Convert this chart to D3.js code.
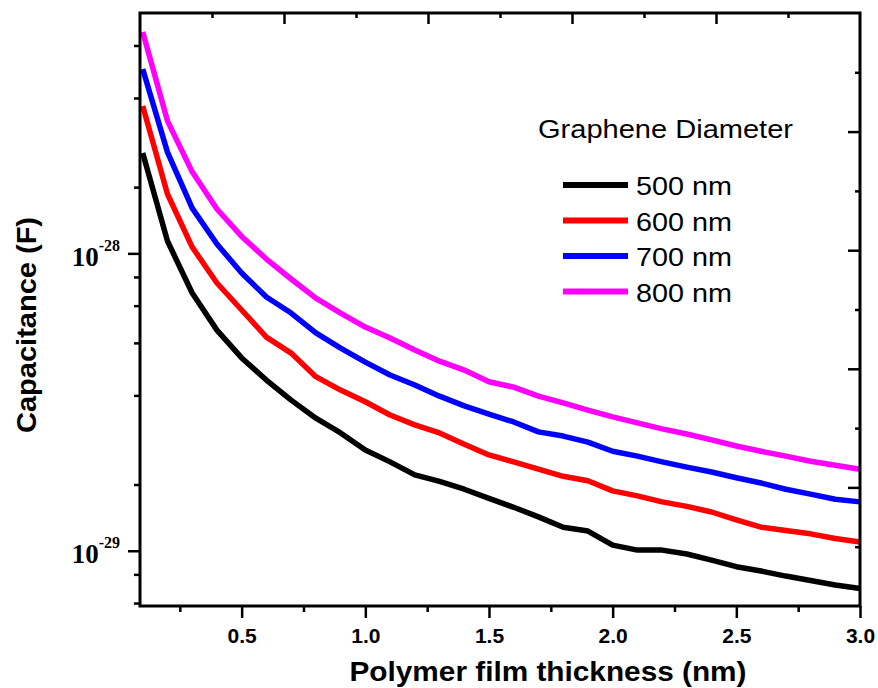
<!DOCTYPE html>
<html>
<head>
<meta charset="utf-8">
<script src="https://cdn.jsdelivr.net/npm/d3@7"></script>
<style>
body { margin: 0; background: #fff; }
svg { display: block; }
</style>
</head>
<body>
<svg width="878" height="688"></svg>
<script>
// film thickness (nm)
var thickness = [0.1, 0.2, 0.3, 0.4, 0.5, 0.6, 0.7, 0.8, 0.9, 1.0,
    1.1, 1.2, 1.3, 1.4, 1.5, 1.6, 1.7, 1.8, 1.9, 2.0,
    2.1, 2.2, 2.3, 2.4, 2.5, 2.6, 2.7, 2.8, 2.9, 3.0];

// capacitance (F) per graphene diameter
var cap500 = [21.75e-29, 11.0e-29, 7.36e-29, 5.52e-29, 4.45e-29, 3.75e-29, 3.21e-29, 2.79e-29, 2.49e-29, 2.18e-29,
    1.99e-29, 1.80e-29, 1.71e-29, 1.61e-29, 1.50e-29, 1.40e-29, 1.30e-29, 1.20e-29, 1.165e-29, 1.045e-29,
    1.005e-29, 1.005e-29, 0.975e-29, 0.930e-29, 0.884e-29, 0.855e-29, 0.822e-29, 0.794e-29, 0.767e-29, 0.747e-29];
var cap600 = [31.3e-29, 15.83e-29, 10.5e-29, 7.95e-29, 6.45e-29, 5.23e-29, 4.62e-29, 3.85e-29, 3.47e-29, 3.17e-29,
    2.86e-29, 2.65e-29, 2.49e-29, 2.28e-29, 2.10e-29, 1.99e-29, 1.88e-29, 1.78e-29, 1.72e-29, 1.59e-29,
    1.53e-29, 1.46e-29, 1.41e-29, 1.35e-29, 1.27e-29, 1.20e-29, 1.17e-29, 1.14e-29, 1.10e-29, 1.07e-29];
var cap700 = [41.7e-29, 21.9e-29, 14.2e-29, 10.75e-29, 8.59e-29, 7.13e-29, 6.30e-29, 5.40e-29, 4.80e-29, 4.31e-29,
    3.90e-29, 3.61e-29, 3.31e-29, 3.07e-29, 2.88e-29, 2.71e-29, 2.51e-29, 2.43e-29, 2.32e-29, 2.16e-29,
    2.08e-29, 1.99e-29, 1.91e-29, 1.84e-29, 1.76e-29, 1.69e-29, 1.61e-29, 1.55e-29, 1.49e-29, 1.46e-29];
var cap800 = [55.5e-29, 27.9e-29, 18.8e-29, 14.1e-29, 11.4e-29, 9.57e-29, 8.20e-29, 7.07e-29, 6.30e-29, 5.65e-29,
    5.19e-29, 4.73e-29, 4.34e-29, 4.05e-29, 3.70e-29, 3.55e-29, 3.31e-29, 3.14e-29, 2.97e-29, 2.82e-29,
    2.69e-29, 2.57e-29, 2.47e-29, 2.36e-29, 2.25e-29, 2.16e-29, 2.08e-29, 2.00e-29, 1.94e-29, 1.88e-29];

var seriesNames = ["500 nm", "600 nm", "700 nm", "800 nm"];
var seriesColors = ["#000000", "#ff0000", "#0000ff", "#ff00ff"];
var seriesValues = [cap500, cap600, cap700, cap800];

var xTicks = [0.5, 1.0, 1.5, 2.0, 2.5, 3.0];
var xMinorTicks = [0.25, 0.75, 1.25, 1.75, 2.25, 2.75];
var yTicks = [1e-29, 1e-28];
var yTickExp = ["-29", "-28"];
var yMinorTicks = [6.67e-30, 8.33e-30, 1.67e-29, 3.33e-29, 5e-29, 6.67e-29, 8.33e-29, 1.67e-28, 3.33e-28, 5e-28];
var frameMajor = [2, 4, 6, 8];
var frameMinor = [1, 3, 5, 7, 9];

var plotLeft = 140, plotRight = 860, plotTop = 13, plotBottom = 606;

var svg = d3.select("svg");

var x = d3.scaleLinear().domain([0.089, 3.0]).range([plotLeft, plotRight]);
var y = d3.scaleLog().domain([6.52e-30, 6.43e-28]).range([plotBottom, plotTop]);
var topScale = d3.scaleLinear().domain([0, 10]).range([plotLeft, plotRight]);
var rightScale = d3.scaleLinear().domain([0, 10]).range([plotBottom, plotTop]);

function styleAxis(g) {
    g.select(".domain").remove();
    g.selectAll(".tick line").attr("stroke", "#000").attr("stroke-width", 2.5);
}

// bottom axis
svg.append("g")
    .attr("transform", "translate(0," + plotBottom + ")")
    .call(d3.axisBottom(x).tickValues(xMinorTicks).tickSize(6).tickFormat(""))
    .call(styleAxis);
var xAxis = svg.append("g")
    .attr("transform", "translate(0," + plotBottom + ")")
    .call(d3.axisBottom(x).tickValues(xTicks).tickSize(12).tickFormat(d3.format(".1f")))
    .call(styleAxis);
xAxis.selectAll(".tick text")
    .attr("y", 37.3)
    .attr("dy", null)
    .attr("fill", "#000")
    .style("font-family", "'Liberation Sans', Arial, sans-serif")
    .style("font-weight", "bold")
    .style("font-size", "21px");

// left axis
svg.append("g")
    .attr("transform", "translate(" + plotLeft + ",0)")
    .call(d3.axisLeft(y).tickValues(yMinorTicks).tickSize(6).tickFormat(""))
    .call(styleAxis);
var yAxis = svg.append("g")
    .attr("transform", "translate(" + plotLeft + ",0)")
    .call(d3.axisLeft(y).tickValues(yTicks).tickSize(12).tickPadding(8).tickFormat(""))
    .call(styleAxis);
yAxis.selectAll(".tick text").each(function(d, i) {
    var t = d3.select(this);
    t.attr("dy", null).attr("y", 11.7)
        .attr("fill", "#000")
        .style("font-family", "'Liberation Serif', 'Times New Roman', serif")
        .style("font-weight", "bold")
        .style("font-size", "27px");
    t.append("tspan").text("10");
    t.append("tspan").attr("dy", -15).style("font-size", "16px").text(yTickExp[i]);
});

// top axis (ticks inward)
svg.append("g")
    .attr("transform", "translate(0," + plotTop + ")")
    .call(d3.axisBottom(topScale).tickValues(frameMinor).tickSize(5).tickFormat(""))
    .call(styleAxis);
svg.append("g")
    .attr("transform", "translate(0," + plotTop + ")")
    .call(d3.axisBottom(topScale).tickValues(frameMajor).tickSize(11).tickFormat(""))
    .call(styleAxis);

// right axis (ticks inward)
svg.append("g")
    .attr("transform", "translate(" + plotRight + ",0)")
    .call(d3.axisLeft(rightScale).tickValues(frameMinor).tickSize(5).tickFormat(""))
    .call(styleAxis);
svg.append("g")
    .attr("transform", "translate(" + plotRight + ",0)")
    .call(d3.axisLeft(rightScale).tickValues(frameMajor).tickSize(12).tickFormat(""))
    .call(styleAxis);

// data lines
var line = d3.line()
    .x(function(d, i) { return x(thickness[i]); })
    .y(function(d) { return y(d); });

svg.selectAll("path.series")
    .data(seriesValues)
    .enter()
    .append("path")
    .attr("class", "series")
    .attr("d", line)
    .attr("fill", "none")
    .attr("stroke", function(d, i) { return seriesColors[i]; })
    .attr("stroke-width", 5.5)
    .attr("stroke-linejoin", "round");

// frame
svg.append("rect")
    .attr("x", plotLeft)
    .attr("y", plotTop)
    .attr("width", plotRight - plotLeft)
    .attr("height", plotBottom - plotTop)
    .attr("fill", "none")
    .attr("stroke", "#000")
    .attr("stroke-width", 3);

// axis titles
svg.append("text")
    .attr("x", 548)
    .attr("y", 681)
    .attr("text-anchor", "middle")
    .attr("textLength", 397)
    .attr("lengthAdjust", "spacingAndGlyphs")
    .style("font-family", "'Liberation Sans', Arial, sans-serif")
    .style("font-weight", "bold")
    .style("font-size", "28px")
    .text("Polymer film thickness (nm)");

svg.append("text")
    .attr("transform", "translate(36,325) rotate(-90)")
    .attr("text-anchor", "middle")
    .attr("textLength", 216)
    .attr("lengthAdjust", "spacingAndGlyphs")
    .style("font-family", "'Liberation Sans', Arial, sans-serif")
    .style("font-weight", "bold")
    .style("font-size", "28px")
    .text("Capacitance (F)");

// legend
var legendFont = "'Liberation Sans', Arial, sans-serif";
svg.append("text")
    .attr("x", 538)
    .attr("y", 138)
    .attr("textLength", 255)
    .attr("lengthAdjust", "spacingAndGlyphs")
    .style("font-family", legendFont)
    .style("font-size", "25px")
    .text("Graphene Diameter");

var legend = svg.selectAll("g.legend-item")
    .data(seriesNames)
    .enter()
    .append("g")
    .attr("class", "legend-item")
    .attr("transform", function(d, i) { return "translate(0," + (185 + i * 35.5) + ")"; });

legend.append("line")
    .attr("x1", 563)
    .attr("x2", 628)
    .attr("y1", 0)
    .attr("y2", 0)
    .attr("stroke", function(d, i) { return seriesColors[i]; })
    .attr("stroke-width", 6);

legend.append("text")
    .attr("x", 636)
    .attr("y", 10)
    .attr("textLength", 96)
    .attr("lengthAdjust", "spacingAndGlyphs")
    .style("font-family", legendFont)
    .style("font-size", "25px")
    .text(function(d) { return d; });
</script>
</body>
</html>
